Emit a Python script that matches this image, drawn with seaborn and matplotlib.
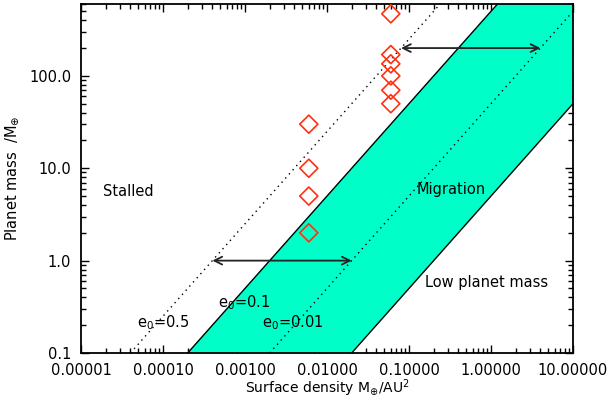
import matplotlib
matplotlib.use("Agg")
import matplotlib.pyplot as plt
from matplotlib.ticker import FixedLocator, LogLocator, NullFormatter
import seaborn as sns
import pandas as pd

sns.set_style("ticks")
plt.rcParams["font.family"] = ["DejaVu Sans"]
plt.rcParams["mathtext.fontset"] = "dejavusans"
plt.rcParams["text.color"] = "black"
plt.rcParams["axes.labelcolor"] = "black"
plt.rcParams["xtick.color"] = "black"
plt.rcParams["ytick.color"] = "black"

# Observed planets: surface density (M_earth/AU^2) and planet mass (M_earth)
planet_sigma = [0.006, 0.006, 0.006, 0.006, 0.06, 0.06, 0.06, 0.06, 0.06, 0.06]
planet_mass = [30, 10, 5, 2, 470, 170, 135, 100, 70, 50]

# Migration region (polygon vertices)
band_sigma = [2e-4, 1.2, 10, 10, 0.02]
band_mass = [0.1, 600, 600, 50, 0.1]

# Eccentricity boundary lines (end points)
e05_sigma = [4e-5, 0.24]
e05_mass = [0.1, 600]
e01_sigma = [2e-4, 1.2]
e01_mass = [0.1, 600]
e001_sigma = [2e-3, 10]
e001_mass = [0.1, 500]
low_sigma = [0.02, 10]
low_mass = [0.1, 50]

# Range arrows
arrow_mass = [1.0, 200]
arrow_from = [4e-4, 0.08]
arrow_to = [0.02, 4.0]

x_ticks = [1e-5, 1e-4, 1e-3, 1e-2, 1e-1, 1, 10]
x_tick_labels = ["0.00001", "0.00010", "0.00100", "0.01000", "0.10000", "1.00000", "10.00000"]
y_ticks = [0.1, 1, 10, 100]
y_tick_labels = ["0.1", "1.0", "10.0", "100.0"]

fig = plt.figure(figsize=(6.11, 4.0), dpi=100)
ax = fig.add_axes([81 / 611, 47 / 400, 492 / 611, 349 / 400])
ax.set_xscale("log")
ax.set_yscale("log")
ax.set_xlim(1e-5, 10)
ax.set_ylim(0.1, 600)

band_color = "#00FFC8"
ax.fill(band_sigma, band_mass, color=band_color, lw=0, zorder=1)

def draw_line(xs, ys, style):
    df = pd.DataFrame({"s": xs, "m": ys})
    sns.lineplot(data=df, x="s", y="m", ax=ax, color="black", lw=1.0,
                 linestyle=style, sort=False, zorder=2)

dots = (0, (1, 3))
draw_line(e05_sigma, e05_mass, dots)
draw_line(e001_sigma, e001_mass, dots)
draw_line(e01_sigma, e01_mass, "-")
draw_line(low_sigma, low_mass, "-")

for m, a, b in zip(arrow_mass, arrow_from, arrow_to):
    ax.annotate("", xy=(b, m), xytext=(a, m),
                arrowprops=dict(arrowstyle="<->", color="#222222", lw=1.3,
                                shrinkA=0, shrinkB=0,
                                mutation_scale=14),
                zorder=3)

pdf = pd.DataFrame({"sigma": planet_sigma, "mass": planet_mass})
sns.scatterplot(data=pdf, x="sigma", y="mass", ax=ax, marker="D", s=85,
                facecolors="none", edgecolors="#FF3010", linewidth=1.2, zorder=4)

fs = 10.5
ax.text(1.86e-5, 5.06, "Stalled", fontsize=fs, va="baseline", ha="left")
ax.text(0.125, 5.2, "Migration", fontsize=fs, va="baseline", ha="left")
ax.text(0.157, 0.52, "Low planet mass", fontsize=fs, va="baseline", ha="left")
ax.text(4.8e-5, 0.191, r"e$_0$=0.5", fontsize=fs, va="baseline", ha="left")
ax.text(4.7e-4, 0.315, r"e$_0$=0.1", fontsize=fs, va="baseline", ha="left")
ax.text(1.62e-3, 0.191, r"e$_0$=0.01", fontsize=fs, va="baseline", ha="left")

ax.xaxis.set_major_locator(FixedLocator(x_ticks))
ax.set_xticklabels(x_tick_labels)
ax.yaxis.set_major_locator(FixedLocator(y_ticks))
ax.set_yticklabels(y_tick_labels)
ax.xaxis.set_minor_locator(LogLocator(base=10, subs=range(2, 10), numticks=20))
ax.yaxis.set_minor_locator(LogLocator(base=10, subs=range(2, 10), numticks=20))
ax.xaxis.set_minor_formatter(NullFormatter())
ax.yaxis.set_minor_formatter(NullFormatter())
ax.tick_params(which="both", direction="in", top=True, right=True,
               labelsize=fs, width=1.0, color="black")
ax.tick_params(which="major", length=6, pad=7)
ax.tick_params(which="minor", length=3.5)
for sp in ax.spines.values():
    sp.set_linewidth(1.3)
    sp.set_color("black")
    sp.set_visible(True)

ax.set_xlabel(r"Surface density M$_{\oplus}$/AU$^2$", fontsize=10, labelpad=0)
ax.set_ylabel(r"Planet mass  /M$_{\oplus}$", fontsize=fs, labelpad=6)

fig.savefig("out.png", dpi=100)
